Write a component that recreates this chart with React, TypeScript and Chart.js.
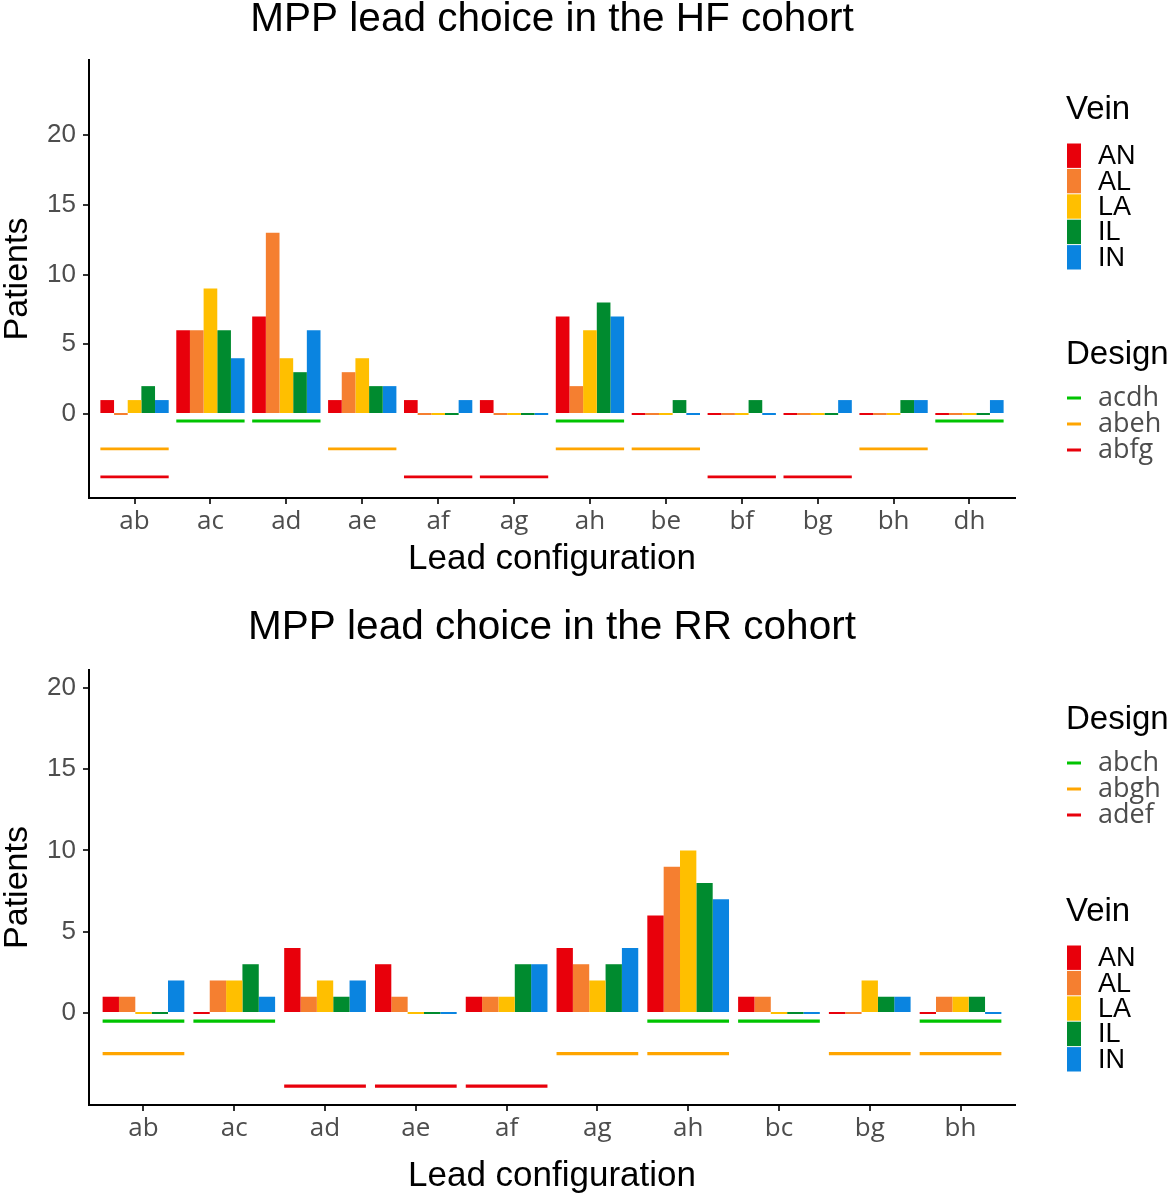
import React, { useEffect, useRef } from "react";
import { Chart, registerables } from "chart.js";

Chart.register(...registerables);

// ---------- shared ----------
const veinNames = ["AN", "AL", "LA", "IL", "IN"];
const veinColors = ["#E8000B", "#F57F30", "#FFBF00", "#008B2F", "#0A84E0"];
const designColors = ["#00C400", "#FFA500", "#E8000B"];
const designLevels = [-0.5, -2.5, -4.5];
const yTicks = [0, 5, 10, 15, 20];

// ---------- HF cohort ----------
const hfCategories = ["ab", "ac", "ad", "ae", "af", "ag", "ah", "be", "bf", "bg", "bh", "dh"];
const hfAN = [1, 6, 7, 1, 1, 1, 7, 0, 0, 0, 0, 0];
const hfAL = [0, 6, 13, 3, 0, 0, 2, 0, 0, 0, 0, 0];
const hfLA = [1, 9, 4, 4, 0, 0, 6, 0, 0, 0, 0, 0];
const hfIL = [2, 6, 3, 2, 0, 0, 8, 1, 1, 0, 1, 0];
const hfIN = [1, 4, 6, 2, 1, 0, 7, 0, 0, 1, 1, 1];
const hfDesignNames = ["acdh", "abeh", "abfg"];
const hfAcdh = ["ac", "ad", "ah", "dh"];
const hfAbeh = ["ab", "ae", "ah", "be", "bh"];
const hfAbfg = ["ab", "af", "ag", "bf", "bg"];

// ---------- RR cohort ----------
const rrCategories = ["ab", "ac", "ad", "ae", "af", "ag", "ah", "bc", "bg", "bh"];
const rrAN = [1, 0, 4, 3, 1, 4, 6, 1, 0, 0];
const rrAL = [1, 2, 1, 1, 1, 3, 9, 1, 0, 1];
const rrLA = [0, 2, 2, 0, 1, 2, 10, 0, 2, 1];
const rrIL = [0, 3, 1, 0, 3, 3, 8, 0, 1, 1];
const rrIN = [2, 1, 2, 0, 3, 4, 7, 0, 1, 0];
const rrDesignNames = ["abch", "abgh", "adef"];
const rrAbch = ["ab", "ac", "ah", "bc", "bh"];
const rrAbgh = ["ab", "ag", "ah", "bg", "bh"];
const rrAdef = ["ad", "ae", "af"];

const SANS = '"Liberation Sans", Arial, sans-serif';
const ALT = '"Open Sans", "DejaVu Sans", sans-serif';

const decorPlugin = {
  id: "decor",
  afterDraw(chart: any, _args: any, opts: any) {
    const ctx = chart.ctx;
    const ca = chart.chartArea;
    ctx.save();
    ctx.fillStyle = "#000";
    ctx.textBaseline = "middle";
    ctx.textAlign = "center";
    ctx.font = `40.5px ${SANS}`;
    ctx.fillText(opts.title, (ca.left + ca.right) / 2, opts.titleY);

    ctx.textAlign = "left";
    const lx = 1066;
    for (const block of opts.legend) {
      ctx.fillStyle = "#000";
      ctx.font = `33px ${SANS}`;
      if (block.kind === "vein") {
        ctx.fillText("Vein", lx, block.y);
        const top = block.y + 33;
        const h = 25.4;
        veinNames.forEach((name, i) => {
          ctx.fillStyle = veinColors[i];
          ctx.fillRect(1067, top + i * h + 0.5, 14, h - 1);
          ctx.fillStyle = "#000";
          ctx.font = `27px ${SANS}`;
          ctx.fillText(name, 1098, top + i * h + h / 2 + 1);
        });
      } else {
        ctx.fillText("Design", lx, block.y);
        const top = block.y + 43;
        opts.designNames.forEach((name: string, i: number) => {
          ctx.fillStyle = designColors[i];
          ctx.fillRect(1067, top + i * 26 - 1.5, 14, 3);
          ctx.fillStyle = "#4d4d4d";
          ctx.font = `27px ${ALT}`;
          ctx.fillText(name, 1098, top + i * 26);
        });
      }
    }
    ctx.restore();
  },
};

type Props = {
  title: string;
  categories: string[];
  veins: number[][];
  designNames: string[];
  designGroups: string[][];
  yMin: number;
  yMax: number;
  top: number;
  bottom: number;
  titleY: number;
  xTitlePad: number;
  legend: { kind: string; y: number }[];
};

function CohortChart(props: Props) {
  const ref = useRef<HTMLCanvasElement>(null);
  useEffect(() => {
    const cats = props.categories;
    const n = cats.length;
    const veinSets = props.veins.map((vals, k) => ({
      type: "bar",
      label: veinNames[k],
      data: vals.map((v, i) => ({ x: i, y: v })),
      backgroundColor: veinColors[k],
      categoryPercentage: 0.9,
      barPercentage: 1,
      minBarLength: 2,
      borderWidth: 0,
    }));
    const designSets = props.designGroups.map((group, k) => ({
      type: "bar",
      label: props.designNames[k],
      data: group.map((c) => ({
        x: cats.indexOf(c),
        y: [designLevels[k] - 0.1, designLevels[k] + 0.1],
      })),
      backgroundColor: designColors[k],
      grouped: false,
      barPercentage: 0.9,
      categoryPercentage: 1,
      borderWidth: 0,
    }));
    const chart = new Chart(ref.current as HTMLCanvasElement, {
      type: "bar",
      data: { datasets: [...veinSets, ...designSets] as any },
      options: {
        animation: false,
        responsive: false,
        layout: { padding: { left: 0, right: 157, top: props.top, bottom: 0 } },
        plugins: {
          legend: { display: false },
          tooltip: { enabled: false },
          decor: {
            title: props.title,
            titleY: props.titleY,
            legend: props.legend,
            designNames: props.designNames,
          },
        } as any,
        scales: {
          x: {
            type: "linear",
            offset: false,
            min: -0.6,
            max: n - 0.4,
            afterBuildTicks: (s: any) => {
              s.ticks = cats.map((_, i) => ({ value: i }));
            },
            afterFit: (s: any) => {
              s.height = 600 - props.bottom;
            },
            ticks: {
              callback: (v: any) => cats[v] ?? "",
              color: "#4d4d4d",
              font: { family: ALT, size: 26 },
              maxRotation: 0,
              autoSkip: false,
              padding: 2,
            },
            grid: {
              offset: false,
              drawOnChartArea: false,
              drawTicks: true,
              tickLength: 6,
              color: "#333333",
              lineWidth: 2,
            },
            border: { display: true, color: "#000", width: 2 },
            title: {
              display: true,
              text: "Lead configuration",
              color: "#000",
              font: { family: SANS, size: 35, lineHeight: 1.2 },
              padding: { top: 0, bottom: props.xTitlePad },
            },
          },
          y: {
            type: "linear",
            min: props.yMin,
            max: props.yMax,
            afterBuildTicks: (s: any) => {
              s.ticks = yTicks.map((v) => ({ value: v }));
            },
            afterFit: (s: any) => {
              s.width = 89;
            },
            ticks: {
              color: "#4d4d4d",
              font: { family: SANS, size: 26 },
              padding: 7,
            },
            grid: {
              drawOnChartArea: false,
              drawTicks: true,
              tickLength: 6,
              color: "#333333",
              lineWidth: 2,
            },
            border: { display: true, color: "#000", width: 2 },
            title: {
              display: true,
              text: "Patients",
              color: "#000",
              font: { family: SANS, size: 34, lineHeight: 1 },
              padding: { top: 1, bottom: 0 },
            },
          },
        } as any,
      },
      plugins: [decorPlugin as any],
    });
    return () => chart.destroy();
  }, []);
  return (
    <canvas
      ref={ref}
      width={1172}
      height={600}
      style={{ display: "block", width: 1172, height: 600 }}
    />
  );
}

export default function App() {
  return (
    <div
      style={{
        position: "absolute",
        left: 0,
        top: 0,
        width: 1172,
        height: 1200,
        background: "#fff",
      }}
    >
      <CohortChart
        title="MPP lead choice in the HF cohort"
        categories={hfCategories}
        veins={[hfAN, hfAL, hfLA, hfIL, hfIN]}
        designNames={hfDesignNames}
        designGroups={[hfAcdh, hfAbeh, hfAbfg]}
        yMin={-6.02}
        yMax={25.38}
        top={60}
        bottom={498}
        titleY={20}
        xTitlePad={20}
        legend={[
          { kind: "vein", y: 110 },
          { kind: "design", y: 355 },
        ]}
      />
      <CohortChart
        title="MPP lead choice in the RR cohort"
        categories={rrCategories}
        veins={[rrAN, rrAL, rrLA, rrIL, rrIN]}
        designNames={rrDesignNames}
        designGroups={[rrAbch, rrAbgh, rrAdef]}
        yMin={-5.66}
        yMax={21.1}
        top={70}
        bottom={505}
        titleY={28}
        xTitlePad={3}
        legend={[
          { kind: "design", y: 120 },
          { kind: "vein", y: 312 },
        ]}
      />
    </div>
  );
}
